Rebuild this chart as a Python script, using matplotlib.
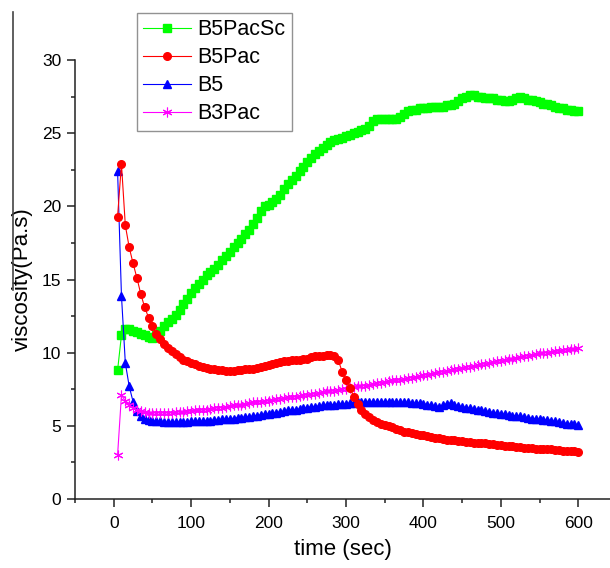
"""
Viscosity vs time for the four binder samples.
"""

import matplotlib
matplotlib.use("Agg")
import matplotlib.pyplot as plt
from matplotlib.lines import Line2D
from matplotlib.ticker import MultipleLocator
import numpy as np

plt.rcParams["font.family"] = ["Liberation Sans", "DejaVu Sans"]

# sampling every 5 s, 5..600 s
time_sec = np.arange(5, 605, 5)

b5pacsc = [
    8.8, 11.2, 11.6, 11.6, 11.5, 11.4, 11.3, 11.2, 11.1, 11.0,
    11.2, 11.5, 11.8, 12.1, 12.3, 12.6, 12.9, 13.3, 13.7, 14.1,
    14.4, 14.7, 15.0, 15.3, 15.5, 15.7, 16.0, 16.3, 16.6, 16.9,
    17.2, 17.5, 17.8, 18.1, 18.4, 18.8, 19.2, 19.7, 20.0, 20.1,
    20.3, 20.5, 20.8, 21.2, 21.5, 21.8, 22.1, 22.4, 22.7, 23.0,
    23.3, 23.6, 23.8, 24.0, 24.2, 24.4, 24.5, 24.6, 24.7, 24.8,
    24.9, 25.0, 25.1, 25.2, 25.3, 25.5, 25.8, 26.0, 26.0, 26.0,
    26.0, 26.0, 26.0, 26.1, 26.3, 26.5, 26.6, 26.6, 26.7, 26.7,
    26.7, 26.8, 26.8, 26.8, 26.8, 26.9, 26.9, 27.0, 27.2, 27.4,
    27.5, 27.6, 27.6, 27.5, 27.5, 27.4, 27.4, 27.4, 27.3, 27.3,
    27.2, 27.2, 27.3, 27.4, 27.5, 27.4, 27.3, 27.3, 27.2, 27.1,
    27.0, 27.0, 26.9, 26.8, 26.7, 26.7, 26.6, 26.6, 26.5, 26.5,
]

b5pac = [
    19.3, 22.9, 18.7, 17.2, 16.1, 15.1, 14.0, 13.1, 12.4, 11.8,
    11.3, 10.9, 10.6, 10.3, 10.1, 9.9, 9.7, 9.5, 9.4, 9.3,
    9.2, 9.1, 9.0, 8.95, 8.9, 8.85, 8.8, 8.8, 8.75, 8.75,
    8.75, 8.8, 8.8, 8.85, 8.9, 8.9, 8.95, 9.0, 9.1, 9.15,
    9.2, 9.3, 9.35, 9.4, 9.45, 9.5, 9.5, 9.5, 9.55, 9.6,
    9.7, 9.75, 9.8, 9.8, 9.85, 9.85, 9.8, 9.5, 8.7, 8.1,
    7.6, 7.0, 6.5, 6.1, 5.8, 5.6, 5.4, 5.25, 5.15, 5.05,
    5.0, 4.9, 4.8, 4.7, 4.6, 4.55, 4.5, 4.45, 4.4, 4.35,
    4.3, 4.25, 4.2, 4.15, 4.1, 4.05, 4.0, 4.0, 3.95, 3.95,
    3.9, 3.9, 3.85, 3.85, 3.85, 3.8, 3.75, 3.75, 3.7, 3.7,
    3.65, 3.6, 3.6, 3.55, 3.55, 3.5, 3.5, 3.5, 3.45, 3.45,
    3.4, 3.4, 3.4, 3.35, 3.35, 3.3, 3.3, 3.3, 3.25, 3.2,
]

b5 = [
    22.4, 13.9, 9.3, 7.7, 6.65, 6.0, 5.7, 5.5, 5.4, 5.35,
    5.3, 5.3, 5.25, 5.25, 5.25, 5.25, 5.25, 5.25, 5.25, 5.3,
    5.3, 5.3, 5.3, 5.35, 5.35, 5.4, 5.4, 5.45, 5.45, 5.5,
    5.5, 5.55, 5.55, 5.6, 5.6, 5.65, 5.7, 5.75, 5.8, 5.8,
    5.85, 5.9, 5.95, 6.0, 6.05, 6.1, 6.1, 6.15, 6.2, 6.25,
    6.3, 6.3, 6.35, 6.4, 6.4, 6.45, 6.45, 6.5, 6.5, 6.5,
    6.55, 6.55, 6.6, 6.6, 6.6, 6.6, 6.65, 6.65, 6.65, 6.65,
    6.65, 6.65, 6.6, 6.6, 6.6, 6.6, 6.55, 6.55, 6.55, 6.5,
    6.45, 6.4, 6.35, 6.3, 6.4, 6.5, 6.55, 6.45, 6.35, 6.3,
    6.25, 6.2, 6.15, 6.1, 6.05, 6.0, 5.95, 5.9, 5.85, 5.8,
    5.8, 5.75, 5.7, 5.7, 5.65, 5.6, 5.55, 5.5, 5.5, 5.45,
    5.4, 5.4, 5.35, 5.3, 5.25, 5.2, 5.15, 5.1, 5.1, 5.05,
]

b3pac = [
    3.0, 7.1, 6.7, 6.4, 6.2, 6.05, 6.0, 5.95, 5.9, 5.9,
    5.9, 5.9, 5.9, 5.9, 5.9, 5.95, 5.95, 5.95, 6.0, 6.0,
    6.05, 6.05, 6.1, 6.1, 6.15, 6.2, 6.25, 6.25, 6.3, 6.35,
    6.4, 6.4, 6.45, 6.5, 6.55, 6.6, 6.6, 6.65, 6.7, 6.7,
    6.75, 6.8, 6.85, 6.9, 6.95, 6.95, 7.0, 7.05, 7.1, 7.1,
    7.15, 7.2, 7.25, 7.3, 7.35, 7.35, 7.4, 7.45, 7.5, 7.55,
    7.6, 7.65, 7.7, 7.75, 7.75, 7.8, 7.85, 7.9, 7.95, 8.0,
    8.05, 8.1, 8.1, 8.15, 8.2, 8.25, 8.3, 8.35, 8.4, 8.45,
    8.5, 8.55, 8.6, 8.65, 8.7, 8.75, 8.8, 8.85, 8.9, 8.95,
    9.0, 9.05, 9.1, 9.15, 9.2, 9.25, 9.3, 9.35, 9.4, 9.45,
    9.5, 9.55, 9.6, 9.65, 9.7, 9.75, 9.8, 9.85, 9.9, 9.95,
    10.0, 10.0, 10.05, 10.1, 10.1, 10.15, 10.2, 10.25, 10.25, 10.3,
]

W, H = 610, 568
fig = plt.figure(figsize=(W / 100, H / 100), dpi=100)
ax = fig.add_axes([75 / W, 69 / H, (W - 75) / W, (508 - 69) / H])

asterisk = (6, 2, 0)
h_g, = ax.plot(time_sec, b5pacsc, color="#00ff00", lw=0.8, marker="s", ms=5.5,
               mec="#00ff00", label="B5PacSc")
h_b, = ax.plot(time_sec, b5, color="#0000ff", lw=0.8, marker="^", ms=6,
               mec="#0000ff", label="B5")
h_m, = ax.plot(time_sec, b3pac, color="#ff00ff", lw=0.8, marker=asterisk, ms=7,
               mew=0.8, mec="#ff00ff", label="B3Pac")
h_r, = ax.plot(time_sec, b5pac, color="#ff0000", lw=0.8, marker="o", ms=5.5,
               mec="#ff0000", label="B5Pac")

ax.set_xlim(-50, 641)
ax.set_ylim(0, 30)
ax.xaxis.set_major_locator(MultipleLocator(100))
ax.xaxis.set_minor_locator(MultipleLocator(50))
ax.yaxis.set_major_locator(MultipleLocator(5))
ax.yaxis.set_minor_locator(MultipleLocator(2.5))

for side in ("top", "right"):
    ax.spines[side].set_visible(False)
for side in ("left", "bottom"):
    ax.spines[side].set_linewidth(1.1)
    ax.spines[side].set_color("#222222")
ax.tick_params(which="major", direction="out", length=6, width=1.1,
               labelsize=12.5, pad=4, color="#222222")
ax.tick_params(axis="x", which="major", pad=6)
ax.tick_params(which="minor", direction="out", length=3, width=1.1,
               color="#222222")

ax.set_xlabel("time (sec)", fontsize=16, labelpad=6)
ax.set_ylabel("viscosity(Pa.s)", fontsize=16, labelpad=6)

leg = ax.legend(handles=[h_g, h_r, h_b, h_m], loc="upper left",
                bbox_to_anchor=(137 / W, 1 - 13 / H), bbox_transform=fig.transFigure,
                borderaxespad=0, fontsize=15.5, frameon=True, fancybox=False,
                handlelength=2.2, handletextpad=0.3, labelspacing=0.32,
                borderpad=0.3, markerscale=1.0)
leg.get_frame().set_edgecolor("#777777")
leg.get_frame().set_linewidth(1.0)

# scan border remnant on the left
fig.add_artist(Line2D([13 / W, 13 / W], [1 - 12 / H, 1 - 290 / H],
                      transform=fig.transFigure, color="#444444", lw=1.2))

fig.savefig("out.png", dpi=100)
